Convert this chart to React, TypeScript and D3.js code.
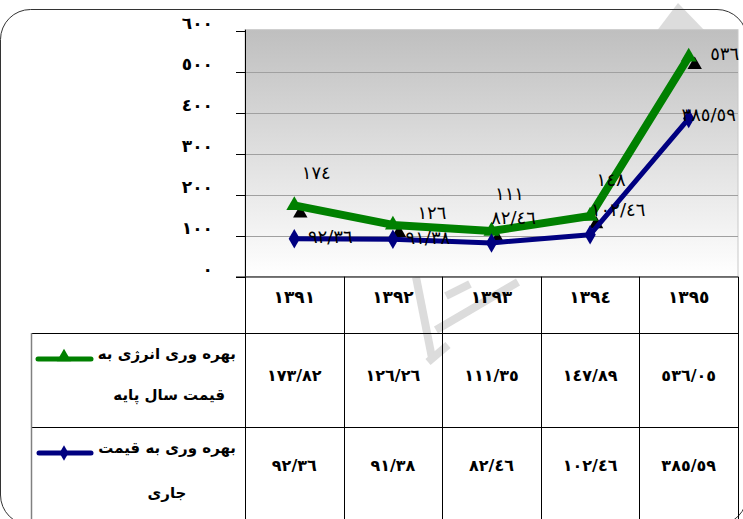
import React from 'react';
import * as d3 from 'd3';

// years (header row of the data table)
const years = ['1391', '1392', '1393', '1394', '1395'];
const yearLabels = ['١٣٩١', '١٣٩٢', '١٣٩٣', '١٣٩٤', '١٣٩٥'];

// series values
const energyBase = [173.82, 126.26, 111.35, 147.89, 536.05];
const energyCurrent = [92.36, 91.38, 82.46, 102.46, 385.59];

// texts as printed
const energyBaseTable = ['١٧٣/٨٢', '١٢٦/٢٦', '١١١/٣٥', '١٤٧/٨٩', '٥٣٦/٠٥'];
const energyCurrentTable = ['٩٢/٣٦', '٩١/٣٨', '٨٢/٤٦', '١٠٢/٤٦', '٣٨٥/٥٩'];
const energyBaseLabels = ['١٧٤', '١٢٦', '١١١', '١٤٨', '٥٣٦'];
const energyCurrentLabels = ['٩٢/٣٦', '٩١/٣٨', '٨٢/٤٦', '١٠٢/٤٦', '٣٨٥/٥٩'];

const yTicks = [0, 100, 200, 300, 400, 500, 600];
const yTickLabels = ['٠', '١٠٠', '٢٠٠', '٣٠٠', '٤٠٠', '٥٠٠', '٦٠٠'];

const legendBase = ['بهره وری انرژی به', 'قیمت سال پایه'];
const legendCurrent = ['بهره وری به قیمت', 'جاری'];

// label nudges (dx, dy) relative to each point
const baseLabelOffset = [[22, -31], [39, -11], [18, -36], [21, -35], [36, -2]];
const currentLabelOffset = [[36, -1], [35, 0], [22, -24], [28, -24], [20, -3]];

const FONT = 'DejaVu Sans';

export default function App() {
  const width = 743;
  const height = 519;
  const left = 245;
  const right = 738;
  const top = 30.7;
  const bottom = 276.7;
  const headerBottom = 333;
  const row1Bottom = 427;
  const legendLeft = 31;

  const x = d3.scaleBand<string>().domain(years).range([left, right]).padding(0);
  const cxOf = (i: number) => (x(years[i]) as number) + x.bandwidth() / 2;
  const y = d3.scaleLinear().domain([0, 600]).range([bottom, top]);

  const line = d3.line<number>()
    .x((_, i) => cxOf(i))
    .y(d => y(d));

  const tri = d3.symbol().type(d3.symbolTriangle).size(90)() || '';
  const triBig = d3.symbol().type(d3.symbolTriangle).size(110)() || '';
  const diamond = d3.symbol().type(d3.symbolDiamond).size(110)() || '';

  const colEdges = years.map(yr => x(yr) as number).concat([right]);

  return (
    <svg width={width} height={height} style={{ position: 'absolute', left: 0, top: 0, display: 'block' }}>
      <defs>
        <linearGradient id="plotBg" x1="0" y1="0" x2="0" y2="1">
          <stop offset="0" stopColor="#bfbfbf" />
          <stop offset="1" stopColor="#ffffff" />
        </linearGradient>
      </defs>
      <rect x={0} y={0} width={width} height={height} fill="#ffffff" />

      {/* watermark */}
      <g fill="#dcdcdc" stroke="#dcdcdc" strokeWidth={8} strokeLinecap="butt">
        <polygon points="678,3 656,32 706,32" strokeWidth={0} />
        <line x1={416} y1={277} x2={432} y2={358} />
        <line x1={436} y1={330} x2={518} y2={282} />
        <line x1={446} y1={296} x2={470} y2={284} />
        <line x1={428} y1={362} x2={448} y2={345} />
      </g>

      {/* outer rounded frame */}
      <rect x={0.5} y={9.5} width={746.5} height={515.5} rx={30} ry={30} fill="none" stroke="#333" strokeWidth={1} />

      {/* plot area */}
      <rect x={left} y={top - 1} width={right - left} height={bottom - top + 1} fill="url(#plotBg)" stroke="#c8c8c8" strokeWidth={1} />
      {yTicks.slice(1, -1).map(t => (
        <line key={`g-${t}`} x1={left} x2={right} y1={Math.round(y(t)) + 0.5} y2={Math.round(y(t)) + 0.5} stroke="#a0a0a0" strokeWidth={1} />
      ))}

      {/* y axis */}
      <line x1={left + 0.5} x2={left + 0.5} y1={top - 1} y2={bottom} stroke="#000" strokeWidth={1} />
      {yTicks.map((t, i) => (
        <g key={`t-${t}`}>
          <line x1={236} x2={left} y1={Math.round(y(t)) + 0.5} y2={Math.round(y(t)) + 0.5} stroke="#000" strokeWidth={1} />
          <text x={213} y={y(t) - 7} textAnchor="end" dominantBaseline="middle" fontFamily={FONT} fontWeight="bold" fontSize={17} fill="#000">
            {yTickLabels[i]}
          </text>
        </g>
      ))}

      {/* shadow triangles */}
      {energyBase.map((v, i) => (
        <path key={`s-${i}`} d={tri} transform={`translate(${cxOf(i) + 6},${y(v) + 8})`} fill="#000" />
      ))}

      {/* series lines */}
      <path d={line(energyBase) || ''} fill="none" stroke="#008000" strokeWidth={8} strokeLinejoin="round" />
      {energyBase.map((v, i) => (
        <path key={`gm-${i}`} d={triBig} transform={`translate(${cxOf(i)},${y(v)})`} fill="#008000" />
      ))}
      <path d={line(energyCurrent) || ''} fill="none" stroke="#000080" strokeWidth={5} strokeLinejoin="round" />
      {energyCurrent.map((v, i) => (
        <path key={`bm-${i}`} d={diamond} transform={`translate(${cxOf(i)},${y(v)})`} fill="#000080" />
      ))}

      {/* data labels */}
      {energyBase.map((v, i) => (
        <text key={`gl-${i}`} x={cxOf(i) + baseLabelOffset[i][0]} y={y(v) + baseLabelOffset[i][1]} textAnchor="middle" dominantBaseline="middle" fontFamily={FONT} fontSize={18} fill="#000">
          {energyBaseLabels[i]}
        </text>
      ))}
      {energyCurrent.map((v, i) => (
        <text key={`bl-${i}`} x={cxOf(i) + currentLabelOffset[i][0]} y={y(v) + currentLabelOffset[i][1]} textAnchor="middle" dominantBaseline="middle" fontFamily={FONT} fontSize={18} fill="#000">
          {energyCurrentLabels[i]}
        </text>
      ))}

      {/* data table */}
      <g stroke="#000" strokeWidth={1}>
        <line x1={236} x2={right} y1={bottom + 0.3} y2={bottom + 0.3} />
        <line x1={legendLeft} x2={right} y1={headerBottom + 0.5} y2={headerBottom + 0.5} />
        <line x1={legendLeft} x2={right} y1={row1Bottom + 0.5} y2={row1Bottom + 0.5} />
        {colEdges.map((cx, i) => (
          <line key={`c-${i}`} x1={Math.round(cx) + 0.5} x2={Math.round(cx) + 0.5} y1={bottom} y2={height} />
        ))}
      </g>
      <line x1={legendLeft + 0.5} x2={legendLeft + 0.5} y1={headerBottom} y2={height} stroke="#808080" strokeWidth={1.5} />

      {yearLabels.map((lab, i) => (
        <text key={`yr-${i}`} x={cxOf(i)} y={298} textAnchor="middle" dominantBaseline="middle" fontFamily={FONT} fontWeight="bold" fontSize={17} fill="#000">
          {lab}
        </text>
      ))}
      {energyBaseTable.map((lab, i) => (
        <text key={`r1-${i}`} x={cxOf(i)} y={376} textAnchor="middle" dominantBaseline="middle" fontFamily={FONT} fontWeight="bold" fontSize={16} fill="#000">
          {lab}
        </text>
      ))}
      {energyCurrentTable.map((lab, i) => (
        <text key={`r2-${i}`} x={cxOf(i)} y={466} textAnchor="middle" dominantBaseline="middle" fontFamily={FONT} fontWeight="bold" fontSize={16} fill="#000">
          {lab}
        </text>
      ))}

      {/* legend cells */}
      <line x1={38} x2={91} y1={359} y2={359} stroke="#008000" strokeWidth={5} strokeLinecap="round" />
      <path d={tri} transform="translate(64,357)" fill="#008000" />
      <text x={236} y={354} textAnchor="end" dominantBaseline="middle" fontFamily={FONT} fontWeight="bold" fontSize={15} fill="#000">{legendBase[0]}</text>
      <text x={225} y={395} textAnchor="end" dominantBaseline="middle" fontFamily={FONT} fontWeight="bold" fontSize={15} fill="#000">{legendBase[1]}</text>

      <line x1={39} x2={91} y1={453} y2={453} stroke="#000080" strokeWidth={5} strokeLinecap="round" />
      <path d={d3.symbol().type(d3.symbolDiamond).size(70)() || ''} transform="translate(64,453)" fill="#000080" />
      <text x={236} y={448} textAnchor="end" dominantBaseline="middle" fontFamily={FONT} fontWeight="bold" fontSize={15} fill="#000">{legendCurrent[0]}</text>
      <text x={167} y={493} textAnchor="middle" dominantBaseline="middle" fontFamily={FONT} fontWeight="bold" fontSize={15} fill="#000">{legendCurrent[1]}</text>
    </svg>
  );
}
